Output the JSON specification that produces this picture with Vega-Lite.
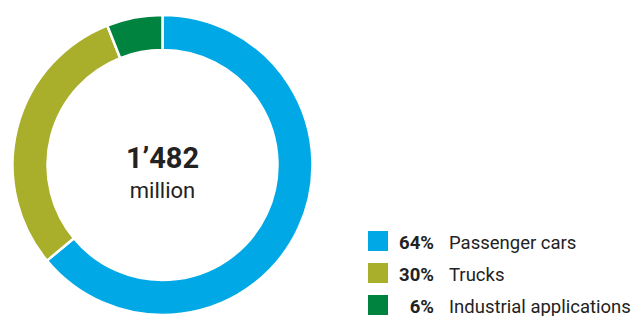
{
  "$schema": "https://vega.github.io/schema/vega-lite/v6.json",
  "padding": {"top": 10, "left": 0, "right": 0, "bottom": 0},
  "background": "white",
  "spacing": 0,
  "config": {"view": {"stroke": null}, "font": "Roboto"},
  "datasets": {
    "segs": [
      {"category": "Passenger cars", "pct": 64, "label": "64%", "order": 1},
      {"category": "Trucks", "pct": 30, "label": "30%", "order": 2},
      {"category": "Industrial applications", "pct": 6, "label": "6%", "order": 3}
    ],
    "center": [{"total": "1’482", "unit": "million"}]
  },
  "hconcat": [
    {
      "width": 325,
      "height": 300,
      "layer": [
        {
          "data": {"name": "segs"},
          "mark": {"type": "arc", "outerRadius": 150, "innerRadius": 115, "stroke": "white", "strokeWidth": 2.5},
          "encoding": {
            "theta": {"field": "pct", "type": "quantitative", "stack": true},
            "order": {"field": "order", "type": "quantitative"},
            "color": {
              "field": "category", "type": "nominal", "legend": null,
              "scale": {"domain": ["Passenger cars", "Trucks", "Industrial applications"], "range": ["#00a9e6", "#a9ae2b", "#00833f"]}
            }
          }
        },
        {
          "data": {"name": "center"},
          "mark": {"type": "text", "fontSize": 29, "fontWeight": "bold", "color": "#222", "dy": 3, "baseline": "alphabetic"},
          "encoding": {"text": {"field": "total"}}
        },
        {
          "data": {"name": "center"},
          "mark": {"type": "text", "fontSize": 22, "color": "#222", "dy": 33, "baseline": "alphabetic"},
          "encoding": {"text": {"field": "unit"}}
        }
      ]
    },
    {
      "width": 308,
      "height": 300,
      "data": {"name": "segs"},
      "encoding": {
        "y": {"field": "category", "type": "nominal", "axis": null,
          "scale": {"type": "point", "padding": 0, "domain": ["Passenger cars", "Trucks", "Industrial applications"], "range": [226, 290]}}
      },
      "layer": [
        {
          "mark": {"type": "square", "size": 400, "opacity": 1, "filled": true},
          "encoding": {
            "x": {"datum": 53, "type": "quantitative", "scale": {"domain": [0, 308], "nice": false, "zero": false}, "axis": null},
            "color": {"field": "category", "type": "nominal", "legend": null,
              "scale": {"domain": ["Passenger cars", "Trucks", "Industrial applications"], "range": ["#00a9e6", "#a9ae2b", "#00833f"]}}
          }
        },
        {
          "mark": {"type": "text", "align": "right", "baseline": "alphabetic", "dy": 8, "fontSize": 18.5, "fontWeight": "bold", "color": "#222"},
          "encoding": {
            "x": {"datum": 109, "type": "quantitative"},
            "text": {"field": "label"}
          }
        },
        {
          "mark": {"type": "text", "align": "left", "baseline": "alphabetic", "dy": 8, "fontSize": 18.5, "color": "#222"},
          "encoding": {
            "x": {"datum": 124, "type": "quantitative"},
            "text": {"field": "category"}
          }
        }
      ]
    }
  ]
}
